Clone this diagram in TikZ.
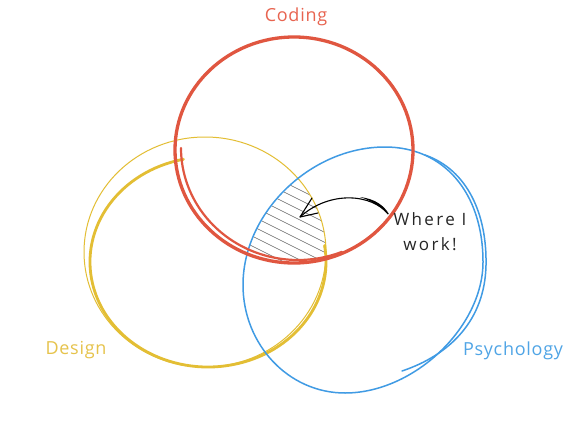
\documentclass[tikz,border=0pt]{standalone}
\usepackage{fontspec}
\setmainfont{Open Sans}
\newfontfamily\handA[LetterSpace=4]{Open Sans}
\newfontfamily\handB[LetterSpace=14]{Open Sans}
\definecolor{cred}{RGB}{224,86,64}
\definecolor{cyel}{RGB}{227,190,52}
\definecolor{cblu}{RGB}{64,155,228}
\definecolor{tred}{RGB}{232,100,80}
\definecolor{tyel}{RGB}{230,195,75}
\definecolor{tblu}{RGB}{80,165,230}
\tikzset{
  redstroke/.style={draw=cred, line width=3.3pt, line cap=round, line join=round},
  redstroke2/.style={draw=cred, line width=2.2pt, line cap=round, line join=round},
  yelthin/.style={draw=cyel, line width=1pt, line cap=round},
  yelthick/.style={draw=cyel, line width=2.8pt, line cap=round},
  blustroke/.style={draw=cblu, line width=1.5pt, line cap=round},
  hatchline/.style={draw=black!60, line width=0.5pt},
  label/.style={font=\handA\fontsize{18}{22}\selectfont, inner sep=0pt},
  arrowline/.style={draw=black, line width=1.1pt, line cap=round, line join=round}
}
\def\redpath{(294,150) ellipse [x radius=119pt, y radius=113pt]}
\def\yelpath{(205,252) ellipse [x radius=121pt, y radius=115pt]}
\def\blupath{(385,147) .. controls (444,147) and (483,193) .. (483,262)
  .. controls (483,327) and (414,393) .. (345,393)
  .. controls (288,393) and (243,344) .. (243,285)
  .. controls (243,212) and (311,147) .. (385,147) -- cycle}
\begin{document}
\begin{tikzpicture}[x=1pt, y=-1pt]
\useasboundingbox (0,0) rectangle (577,433);
\fill[white] (0,0) rectangle (577,433);
% hatch in the triple intersection
\begin{scope}
  \clip \redpath;
  \clip \yelpath;
  \clip \blupath;
  \foreach \c in {130,140,...,300} {
    \draw[hatchline] (230,\c-25) -- (350,\c+35);
  }
\end{scope}
% yellow
\draw[yelthin] \yelpath;
\draw[yelthick] (208,262) ++(102:118pt and 105pt) arc[start angle=102, end angle=369, x radius=118pt, y radius=105pt];
% blue
\draw[blustroke] \blupath;
\draw[blustroke] (425,155) .. controls (468,170) and (487,215) .. (486,265) .. controls (485,320) and (450,355) .. (402,371);
% red
\draw[redstroke] \redpath;
\draw[redstroke2] (298,148) ++(180:117pt and 112pt) arc[start angle=180, end angle=292, x radius=117pt, y radius=112pt];
% labels
\node[label, text=tred] (coding) at (296,17) {Coding};
\node[label, text=tyel] (design) at (76,350) {Design};
\node[label, text=tblu] (psych) at (513,351) {Psychology};
\node[label, text=black!85, align=center, font=\handB\fontsize{17}{25}\selectfont] (where) at (430,232) {Where I\\work!};
% arrow
\coordinate (astart) at (388,214);
\coordinate (tip) at (300,217);
\coordinate (arm1) at (312,198);
\coordinate (arm2) at (318,213);
\draw[arrowline] (astart) .. controls (372,194) and (330,190) .. (tip);
\fill[black] (360,197) .. controls (376,199) and (384,206) .. (389,214) .. controls (380,206) and (372,201) .. (360,197) -- cycle;
\draw[arrowline] (arm1) -- (tip) -- (arm2);
\end{tikzpicture}
\end{document}
